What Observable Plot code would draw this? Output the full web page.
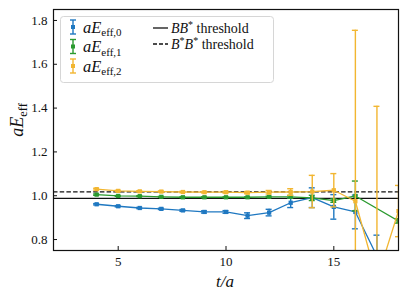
<!DOCTYPE html>
<html><head><meta charset="utf-8">
<script src="https://cdn.jsdelivr.net/npm/d3@7"></script>
<script src="https://cdn.jsdelivr.net/npm/@observablehq/plot@0.6"></script>
<style>
html,body{margin:0;padding:0;background:#fff;}
#chart{width:407px;height:300px;}
#chart svg text{font-family:"Liberation Serif",serif;}
</style></head><body><div id="chart"></div>
<script>
const tValues = [4,5,6,7,8,9,10,11,12,13,14,15,16,17,18];
const e0    = [0.961,0.952,0.944,0.940,0.933,0.926,0.926,0.909,0.923,0.968,0.991,0.949,0.926,0.724,0.650];
const e0Err = [0.003,0.003,0.003,0.003,0.004,0.005,0.006,0.013,0.015,0.022,0.045,0.056,0.077,0.096,0.060];
const e1    = [1.005,0.999,0.998,0.995,0.993,0.993,0.993,0.993,0.995,0.995,0.990,0.978,0.999,null,0.885];
const e1Err = [0.003,0.002,0.002,0.002,0.002,0.002,0.002,0.002,0.003,0.006,0.012,0.008,0.068,null,0.010];
const e2    = [1.030,1.022,1.020,1.019,1.017,1.016,1.016,1.014,1.016,1.017,1.019,1.025,0.975,0.618,0.930];
const e2Err = [0.004,0.003,0.003,0.003,0.003,0.003,0.004,0.005,0.008,0.015,0.074,0.076,0.780,0.790,0.117];
const seriesKeys = ["0","1","2"];
const seriesColors = ["#1f78c1","#2b9a2f","#f2b631"];
const thresholdBB = 0.988;
const thresholdBsBs = 1.018;
const xTicks = [5,10,15];
const yTicks = [0.8,1.0,1.2,1.4,1.6,1.8];
const xDomain = [2,18];
const yDomain = [0.75,1.85];

const seriesValues = [e0,e1,e2];
const seriesErrors = [e0Err,e1Err,e2Err];
const FONT = "Liberation Serif, serif";

const marks = [
  Plot.ruleY([thresholdBB], {y: d => d, stroke: "#111", strokeWidth: 1.3}),
  Plot.ruleY([thresholdBsBs], {y: d => d, stroke: "#111", strokeWidth: 1.3, strokeDasharray: "4.5,2.2"})
];
seriesKeys.forEach((k, si) => {
  const rows = tValues.map((t, i) => ({t, v: seriesValues[si][i], err: seriesErrors[si][i]}))
    .filter(d => d.v != null);
  const c = seriesColors[si];
  marks.push(
    Plot.ruleX(rows, {x: "t", y1: d => d.v - d.err, y2: d => d.v + d.err, stroke: c, strokeWidth: 1.4, clip: true}),
    Plot.ruleY(rows, {y: d => d.v + d.err, x1: "t", x2: "t", insetLeft: -3, insetRight: -3, stroke: c, strokeWidth: 1.4, clip: true}),
    Plot.ruleY(rows, {y: d => d.v - d.err, x1: "t", x2: "t", insetLeft: -3, insetRight: -3, stroke: c, strokeWidth: 1.4, clip: true}),
    Plot.line(rows, {x: "t", y: "v", stroke: c, strokeWidth: 1.3, clip: true}),
    Plot.dot(rows, {x: "t", y: "v", fill: c, stroke: "none", symbol: "square", r: 2.4, clip: true})
  );
});
marks.push(
  Plot.ruleX(xTicks, {x: d => d, y1: yDomain[0], y2: yDomain[0], insetTop: -4, stroke: "#111", strokeWidth: 1}),
  Plot.ruleY(yTicks, {y: d => d, x1: xDomain[0], x2: xDomain[0], insetRight: -4, stroke: "#111", strokeWidth: 1}),
  Plot.axisX({ticks: xTicks, tickSize: 0, tickPadding: 6, label: null, tickFormat: d => String(d), fontSize: 13}),
  Plot.axisY({ticks: yTicks, tickSize: 0, tickPadding: 6, label: null, tickFormat: d => d.toFixed(1), fontSize: 13}),
  Plot.frame({stroke: "#111", strokeWidth: 1.2})
);

const svgNode = Plot.plot({
  width: 407, height: 300,
  marginLeft: 53, marginRight: 9, marginTop: 9, marginBottom: 50,
  x: {domain: xDomain},
  y: {domain: yDomain},
  style: {fontFamily: FONT, fontSize: "13px", color: "#111", background: "#fff"},
  marks
});
document.getElementById("chart").appendChild(svgNode);

const svg = d3.select(svgNode);
function txt(sel) {
  return sel.append("text").attr("font-family", FONT).attr("fill", "#111").attr("text-anchor", "start");
}
// axis labels
const yl = txt(svg).attr("transform", "translate(23,120) rotate(-90)").attr("text-anchor", "middle").attr("font-size", 18);
yl.append("tspan").attr("font-style", "italic").text("aE");
yl.append("tspan").attr("font-size", 12.5).attr("dy", 3.5).text("eff");
txt(svg).attr("x", 225).attr("y", 287).attr("text-anchor", "middle").attr("font-size", 17).attr("font-style", "italic").text("t/a");

// legend
const lg = svg.append("g");
lg.append("rect").attr("x", 60.5).attr("y", 16.5).attr("width", 213).attr("height", 66).attr("rx", 3)
  .attr("fill", "#fff").attr("fill-opacity", 0.85).attr("stroke", "#d6d6d6").attr("stroke-width", 1);
const rowsY = [27, 46.5, 66];
seriesKeys.forEach((k, i) => {
  const c = seriesColors[i], cy = rowsY[i];
  lg.append("line").attr("x1", 73).attr("x2", 73).attr("y1", cy - 7).attr("y2", cy + 7).attr("stroke", c).attr("stroke-width", 1.4);
  lg.append("line").attr("x1", 70).attr("x2", 76).attr("y1", cy - 7).attr("y2", cy - 7).attr("stroke", c).attr("stroke-width", 1.4);
  lg.append("line").attr("x1", 70).attr("x2", 76).attr("y1", cy + 7).attr("y2", cy + 7).attr("stroke", c).attr("stroke-width", 1.4);
  lg.append("rect").attr("x", 71).attr("y", cy - 2).attr("width", 4).attr("height", 4).attr("fill", c);
  const t = txt(lg).attr("x", 83).attr("y", cy + 5.5).attr("font-size", 16.5);
  t.append("tspan").attr("font-style", "italic").text("aE");
  t.append("tspan").attr("font-size", 11).attr("dy", 3.5).text("eff," + k);
});
const thr = [{y: 28, dash: null}, {y: 44, dash: "4,2"}];
thr.forEach((r, i) => {
  const ln = lg.append("line").attr("x1", 153).attr("x2", 168).attr("y1", r.y).attr("y2", r.y).attr("stroke", "#111").attr("stroke-width", 1.3);
  if (r.dash) ln.attr("stroke-dasharray", r.dash);
  const t = txt(lg).attr("x", 171).attr("y", r.y + 4.5).attr("font-size", 14);
  if (i === 0) {
    t.append("tspan").attr("font-style", "italic").text("BB");
    t.append("tspan").attr("font-size", 10).attr("dy", -5).text("*");
    t.append("tspan").attr("dy", 5).text(" threshold");
  } else {
    t.append("tspan").attr("font-style", "italic").text("B");
    t.append("tspan").attr("font-size", 10).attr("dy", -5).text("*");
    t.append("tspan").attr("font-style", "italic").attr("dy", 5).text("B");
    t.append("tspan").attr("font-size", 10).attr("dy", -5).text("*");
    t.append("tspan").attr("dy", 5).text(" threshold");
  }
});
</script></body></html>
